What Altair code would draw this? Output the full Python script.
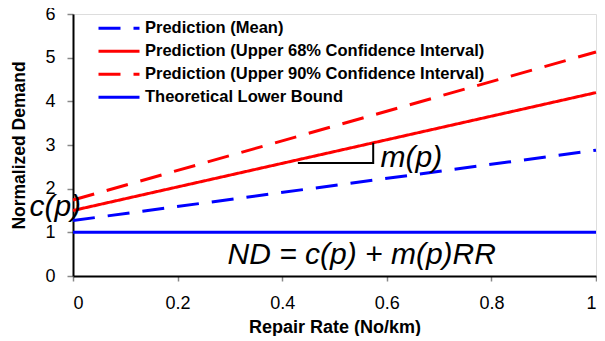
import altair as alt
import pandas as pd

# ---- data ----
series = [
    "Prediction (Mean)",
    "Prediction (Upper 68% Confidence Interval)",
    "Prediction (Upper 90% Confidence Interval)",
    "Theoretical Lower Bound",
]
x_vals = [0.0, 1.0]
mean_vals = [1.27, 2.88]
upper68_vals = [1.50, 4.20]
upper90_vals = [1.74, 5.13]
lower_vals = [1.0, 1.0]
series_colors = ["#0000FF", "#FF0000", "#FF0000", "#0000FF"]
series_dash = [[22, 13], [1, 0], [22, 13], [1, 0]]

x_ticks = [0, 0.2, 0.4, 0.6, 0.8, 1]
y_ticks = [0, 1, 2, 3, 4, 5, 6]

ann_text = ["c(p)", "m(p)", "ND = c(p) + m(p)RR"]
ann_x = [-0.034, 0.647, 0.552]
ann_y = [1.57, 2.70, 0.47]

tri_x = [0.43, 0.574, 0.574]
tri_y = [2.59, 2.59, 3.05]

FONT = "Liberation Sans"

rows = []
for name, vals in zip(series, [mean_vals, upper68_vals, upper90_vals, lower_vals]):
    for xv, yv in zip(x_vals, vals):
        rows.append({"series": name, "x": xv, "y": yv})
df = pd.DataFrame(rows)

ann_df = pd.DataFrame({"text": ann_text, "x": ann_x, "y": ann_y})
tri_df = pd.DataFrame({"x": tri_x, "y": tri_y, "o": list(range(len(tri_x)))})

xscale = alt.Scale(domain=[0, 1], nice=False, zero=False)
yscale = alt.Scale(domain=[0, 6], nice=False)

legend_kw = dict(
    title=None, orient="none", legendX=24, legendY=3,
    symbolType="stroke", symbolSize=1681, symbolStrokeWidth=3,
    clipHeight=22.7, rowPadding=0, padding=0,
    labelFont=FONT, labelFontSize=16.5, labelFontWeight="bold",
    labelColor="black", labelOffset=4, labelLimit=600)

lines = alt.Chart(df).mark_line(strokeWidth=3).encode(
    x=alt.X("x:Q", scale=xscale, axis=alt.Axis(
        values=x_ticks, format="~g", title="Repair Rate (No/km)",
        grid=False, tickSize=5, labelPadding=13, titlePadding=6,
        labelFontSize=18, titleFontSize=18, titleFontWeight="bold",
        labelFont=FONT, titleFont=FONT, labelColor="black", titleColor="black",
        domainColor="black", domainWidth=2, tickColor="#888888", tickWidth=1.5)),
    y=alt.Y("y:Q", scale=yscale, axis=alt.Axis(
        values=y_ticks, title="Normalized Demand",
        grid=False, tickSize=6, labelPadding=12, titlePadding=16,
        labelFontSize=18, titleFontSize=17.5, titleFontWeight="bold",
        labelFont=FONT, titleFont=FONT, labelColor="black", titleColor="black",
        domainColor="black", domainWidth=2, tickColor="#888888", tickWidth=1.5)),
    color=alt.Color("series:N", scale=alt.Scale(domain=series, range=series_colors),
                    legend=alt.Legend(**legend_kw)),
    strokeDash=alt.StrokeDash("series:N", scale=alt.Scale(domain=series, range=series_dash),
                              legend=alt.Legend(**legend_kw)),
    detail="series:N",
)

tri = alt.Chart(tri_df).mark_line(color="black", strokeWidth=2).encode(
    x=alt.X("x:Q", scale=xscale), y=alt.Y("y:Q", scale=yscale), order="o:Q")

ann = alt.Chart(ann_df).mark_text(
    font=FONT, fontSize=30, fontStyle="italic", color="black",
    align="center", baseline="middle").encode(
    x=alt.X("x:Q", scale=xscale), y=alt.Y("y:Q", scale=yscale), text="text:N")

chart = alt.layer(lines, tri, ann).properties(
    width=523, height=262,
    autosize=alt.AutoSizeParams(type="none"),
    padding={"left": 65, "top": 6, "right": 1, "bottom": 60},
).configure_view(stroke="black", strokeWidth=2).configure(background="white")

chart.save("out.html", embed_options={"renderer": "svg", "actions": False})
